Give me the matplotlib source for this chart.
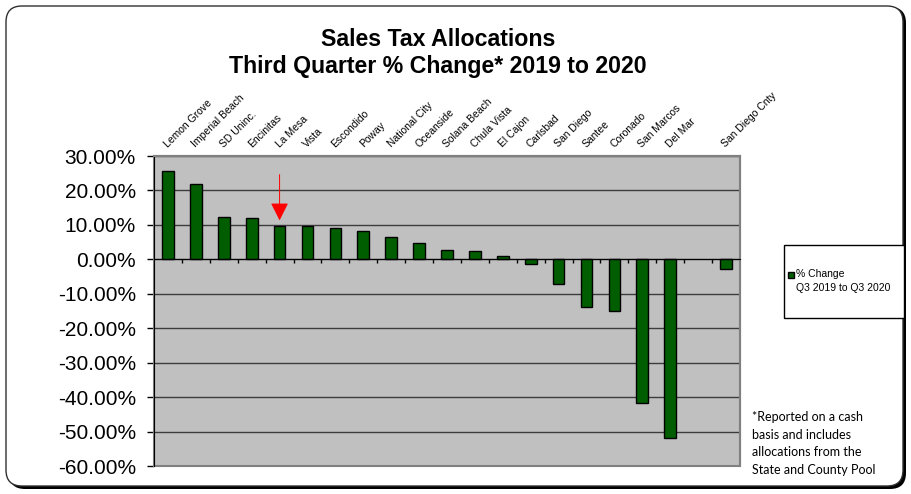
import matplotlib
matplotlib.use("Agg")
import numpy as np
import matplotlib.pyplot as plt
from matplotlib.patches import FancyBboxPatch, Rectangle
from matplotlib.transforms import IdentityTransform
from matplotlib.ticker import FuncFormatter, MultipleLocator

# cidades (posicao vazia entre Del Mar e San Diego Cnty)
cidades = ["Lemon Grove", "Imperial Beach", "SD Uninc.", "Encinitas", "La Mesa",
           "Vista", "Escondido", "Poway", "National City", "Oceanside",
           "Solana Beach", "Chula Vista", "El Cajon", "Carlsbad", "San Diego",
           "Santee", "Coronado", "San Marcos", "Del Mar", "", "San Diego Cnty"]

# variacao % Q3 2019 -> Q3 2020
variacao = [25.5, 22.0, 12.2, 11.9, 9.7,
            9.6, 9.1, 8.1, 6.4, 4.8,
            2.8, 2.3, 0.9, -1.5, -7.3,
            -13.7, -14.9, -41.8, -51.8, np.nan, -2.8]

destaque = "La Mesa"
serie = "% Change\nQ3 2019 to Q3 2020"
nota = ("*Reported on a cash\nbasis and includes\n"
        "allocations from the\nState and County Pool")

VERDE = "#005e00"
W, H = 912, 494

plt.rcParams["font.family"] = ["Liberation Sans", "DejaVu Sans"]

fig = plt.figure(figsize=(W / 100, H / 100), dpi=100)
fig.patch.set_facecolor("white")

# moldura arredondada com sombra
px = IdentityTransform()
sombra = FancyBboxPatch((9, 5), W - 15, H - 12,
                        boxstyle="round,pad=0,rounding_size=16",
                        transform=px, facecolor="black", edgecolor="black",
                        lw=0, zorder=-2)
moldura = FancyBboxPatch((6, 8), W - 15, H - 14,
                         boxstyle="round,pad=0,rounding_size=16",
                         transform=px, facecolor="white", edgecolor="#303030",
                         lw=1, zorder=-1)
fig.patches.extend([sombra, moldura])

# area do grafico
ax = fig.add_axes([154 / W, 1 - 466 / H, (740 - 154) / W, (466 - 156) / H])
ax.set_facecolor("#c0c0c0")
x = np.arange(len(cidades))
ax.bar(x, variacao, width=0.42, color=VERDE, edgecolor="black", lw=1, zorder=3)

ax.set_xlim(-0.5, len(cidades) - 0.5)
ax.set_ylim(-60, 30)
ax.yaxis.set_major_locator(MultipleLocator(10))
ax.yaxis.set_major_formatter(FuncFormatter(lambda v, p: "%.2f%%" % v))
ax.tick_params(axis="y", direction="out", length=5, width=1, labelsize=15,
               pad=8, colors="black")
ax.yaxis.grid(True, color="#3c3c3c", lw=1)
ax.set_axisbelow(True)

# eixo das categorias passando pelo zero
ax.set_xticks(x[:-1] + 0.5)
ax.tick_params(axis="x", direction="out", length=3, width=1, labelbottom=False)
ax.spines["bottom"].set_position(("data", 0))
ax.spines["bottom"].set_color("black")
ax.spines["bottom"].set_zorder(4)
for s in ("top", "right"):
    ax.spines[s].set_color("#808080")
    ax.spines[s].set_linewidth(1.5)
ax.spines["left"].set_color("black")
ax.add_patch(Rectangle((0, 0), 1, 1, transform=ax.transAxes, fill=False,
                       edgecolor="#808080", lw=1.5, zorder=1, clip_on=False))

# nomes das cidades em cima
for i, nome in enumerate(cidades):
    if nome:
        ax.annotate(nome, xy=(i, 1), xycoords=("data", "axes fraction"),
                    xytext=(1, 5), textcoords="offset points", rotation=45,
                    rotation_mode="anchor", ha="left", va="bottom",
                    fontsize=7.5)

# seta vermelha
k = cidades.index(destaque)
ax.annotate("", xy=(k, variacao[k] + 1.6), xytext=(k, variacao[k] + 14.9),
            arrowprops=dict(arrowstyle="-|>,head_width=0.55,head_length=1.1",
                            color="#ff0000", lw=0.7, shrinkA=0, shrinkB=0),
            zorder=5)

# titulo
fig.text(438 / W, 1 - 40 / H, "Sales Tax Allocations", ha="center",
         va="center", fontsize=16.7, fontweight="bold")
fig.text(438 / W, 1 - 67 / H, "Third Quarter % Change* 2019 to 2020",
         ha="center", va="center", fontsize=16.7, fontweight="bold")

# legenda
fig.patches.append(Rectangle((784, H - 318), 120, 73, transform=px,
                             facecolor="white", edgecolor="black", lw=1))
fig.patches.append(Rectangle((788, H - 278), 6, 6, transform=px,
                             facecolor=VERDE, edgecolor="black", lw=1))
fig.text(796 / W, 1 - 281 / H, serie, ha="left", va="center", fontsize=7.5,
         linespacing=1.45)

# nota de rodape
fig.text(752 / W, 1 - 411 / H, nota, ha="left", va="top", fontsize=9,
         family="Lato", linespacing=1.55)

fig.savefig("out.png", dpi=100)
